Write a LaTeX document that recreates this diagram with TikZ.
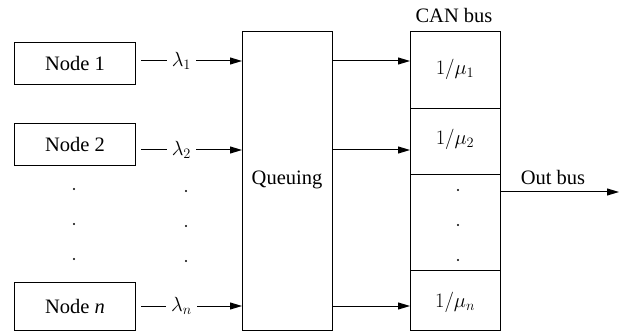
\RequirePackage{fix-cm}
\documentclass[tikz,border=0pt]{standalone}
\usepackage{fontspec}
\setmainfont{Liberation Serif}
\usetikzlibrary{arrows.meta,calc}
\tikzset{
  lab/.style={font=\fontsize{20.5}{24}\selectfont, inner sep=0pt},
  box/.style={draw, line width=1pt, inner sep=0pt, anchor=north west},
  arr/.style={line width=1pt, -{Triangle[length=12pt,width=7pt]}},
  lam/.style={lab, fill=white, inner xsep=5pt, inner ysep=2pt},
  dot/.style={circle, fill, inner sep=0pt, minimum size=2.2pt}
}
\begin{document}
\begin{tikzpicture}[x=1pt,y=-1pt]
\useasboundingbox (0,0) rectangle (627,334);
% source nodes
\node[box, minimum width=121pt, minimum height=42pt] (n1) at (14,42) {};
\node[lab] at (n1.center) {Node 1};
\node[box, minimum width=121pt, minimum height=42pt] (n2) at (14,123) {};
\node[lab] at (n2.center) {Node 2};
\node[box, minimum width=121pt, minimum height=48pt] (nn) at (14,282) {};
\node[lab] at (nn.center) {Node \textit{n}};
% queue
\node[box, minimum width=90pt, minimum height=299pt] (q) at (242,31) {};
\node[lab] at (287,180) {Queuing};
% CAN bus cells
\node[box, minimum width=90pt, minimum height=77pt] (c1) at (410,31) {};
\node[box, minimum width=90pt, minimum height=66pt] (c2) at (410,108) {};
\node[box, minimum width=90pt, minimum height=96pt] (c3) at (410,174) {};
\node[box, minimum width=90pt, minimum height=60pt] (c4) at (410,270) {};
\node[lab] at (455,69) {$1/\mu_1$};
\node[lab] at (455,139) {$1/\mu_2$};
\node[lab] at (455,302) {$1/\mu_n$};
\node[lab] (can) at (454,15) {CAN bus};
% input arrows
\coordinate (a1) at (141,61);
\coordinate (a2) at (141,150);
\coordinate (an) at (141,306);
\draw[arr] (a1) -- (a1 -| q.west) node[lam, pos=0.4] {$\lambda_1$};
\draw[arr] (a2) -- (a2 -| q.west) node[lam, pos=0.4] {$\lambda_2$};
\draw[arr] (an) -- (an -| q.west) node[lam, pos=0.4] {$\lambda_n$};
% queue to CAN
\draw[arr] (a1 -| q.east) -- (a1 -| c1.west);
\draw[arr] (a2 -| q.east) -- (a2 -| c2.west);
\draw[arr] (an -| q.east) -- (an -| c4.west);
% out bus
\coordinate (ob) at (619,192);
\draw[arr] (ob -| c3.east) -- (ob);
\node[lab] at (553,177) {Out bus};
% dots
\foreach \y in {189,224,259} {
  \node[dot] at (74,\y) {};
  \node[dot] at (186,\y+2) {};
  \node[dot] at (458,\y+1) {};
}
\end{tikzpicture}
\end{document}
